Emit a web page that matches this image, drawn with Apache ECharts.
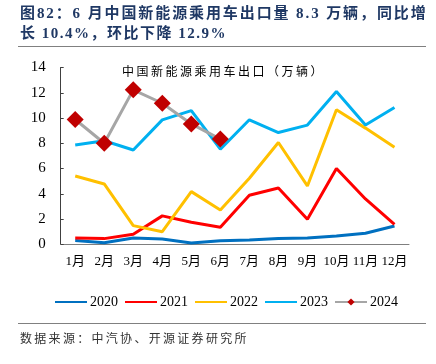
<!DOCTYPE html>
<html>
<head>
<meta charset="utf-8">
<script src="https://cdn.jsdelivr.net/npm/echarts@6/dist/echarts.min.js"></script>
<style>
html,body{margin:0;padding:0;background:#fff;}
#wrap{position:relative;width:436px;height:364px;}
#c{position:absolute;left:0;top:0;width:436px;height:364px;}
.t{position:absolute;white-space:nowrap;}
#t1,#t2{left:20px;font-family:"Liberation Serif","Noto Sans CJK SC",serif;font-weight:bold;font-size:15px;color:#1f3864;line-height:18px;}
#t1{top:4px;letter-spacing:1.9px;}
#t2{top:24px;letter-spacing:1.5px;}
#it{left:122px;top:63px;font-family:"Noto Sans CJK SC",sans-serif;font-size:12px;color:#000;letter-spacing:2.5px;line-height:16px;}
#src{left:20px;top:330px;font-family:"Noto Sans CJK SC",sans-serif;font-size:12px;color:#333;letter-spacing:2.3px;line-height:16px;}
</style>
</head>
<body>
<div id="wrap">
<div id="c"></div>
<div class="t" id="t1"></div>
<div class="t" id="t2"></div>
<div class="t" id="it"></div>
<div class="t" id="src"></div>
</div>
<script>
const months = ['1月','2月','3月','4月','5月','6月','7月','8月','9月','10月','11月','12月'];
const yTicks = [0, 2, 4, 6, 8, 10, 12, 14];
const s2020 = [0.30, 0.13, 0.50, 0.42, 0.10, 0.29, 0.34, 0.45, 0.49, 0.66, 0.87, 1.45];
const s2021 = [0.50, 0.45, 0.80, 2.25, 1.74, 1.35, 3.88, 4.46, 1.98, 6.00, 3.59, 1.58];
const s2022 = [5.41, 4.78, 1.48, 1.00, 4.17, 2.72, 5.23, 8.06, 4.62, 10.65, 9.20, 7.69];
const s2023 = [7.87, 8.20, 7.47, 9.85, 10.59, 7.53, 9.86, 8.85, 9.44, 12.10, 9.44, 10.83];
const s2024 = [9.88, 8.00, 12.23, 11.17, 9.53, 8.33];
const seriesNames = ['2020','2021','2022','2023','2024'];
const titleLine1 = '图82：6 月中国新能源乘用车出口量 8.3 万辆，同比增';
const titleLine2 = '长 10.4%，环比下降 12.9%';
const innerTitle = '中国新能源乘用车出口（万辆）';
const sourceText = '数据来源：中汽协、开源证券研究所';

document.getElementById('t1').textContent = titleLine1;
document.getElementById('t2').textContent = titleLine2;
document.getElementById('it').textContent = innerTitle;
document.getElementById('src').textContent = sourceText;

const serif = '"Liberation Serif","Noto Sans CJK SC",serif';
const chart = echarts.init(document.getElementById('c'), null, {renderer:'canvas'});
function lineSeries(name, data, color){
  return {name:name, type:'line', data:data, symbol:'none', smooth:false,
    lineStyle:{color:color, width:3}, itemStyle:{color:color}, z:2};
}
chart.setOption({
  animation:false,
  backgroundColor:'#fff',
  grid:{left:60.7, right:27, top:67.5, bottom:119.7, containLabel:false},
  graphic:[
    {type:'line', shape:{x1:18, y1:46.5, x2:426, y2:46.5}, style:{stroke:'#808080', lineWidth:1}},
    {type:'line', shape:{x1:18, y1:323.5, x2:426, y2:323.5}, style:{stroke:'#808080', lineWidth:1}}
  ],
  legend:{
    data:seriesNames.map(function(n){ return n === '2024' ? {name:n} : {name:n, itemStyle:{opacity:0}}; }),
    left:49, top:290, itemWidth:32, itemHeight:9, itemGap:6,
    textStyle:{fontFamily:serif, fontSize:14, color:'#000', padding:[0,0,0,-2]}},
  xAxis:{type:'category', data:months, boundaryGap:true,
    axisLine:{lineStyle:{color:'#7f7f7f', width:1}},
    axisTick:{inside:true, length:4, alignWithLabel:false, lineStyle:{color:'#7f7f7f'}},
    axisLabel:{fontFamily:serif, fontSize:13, color:'#000', margin:11, interval:0}},
  yAxis:{type:'value', min:yTicks[0], max:yTicks[yTicks.length-1], interval:2,
    splitLine:{show:false},
    axisLine:{show:true, lineStyle:{color:'#404040', width:1}},
    axisTick:{show:true, inside:true, length:3, lineStyle:{color:'#404040'}},
    axisLabel:{fontFamily:serif, fontSize:15, color:'#000', margin:15}},
  series:[
    lineSeries('2020', s2020, '#0070c0'),
    lineSeries('2021', s2021, '#ff0000'),
    lineSeries('2022', s2022, '#ffc000'),
    lineSeries('2023', s2023, '#00b0f0'),
    {name:'2024', type:'line', data:s2024, symbol:'diamond', symbolSize:17,
      lineStyle:{color:'#a6a6a6', width:3}, itemStyle:{color:'#c00000'}, z:3}
  ]
});
</script>
</body>
</html>
